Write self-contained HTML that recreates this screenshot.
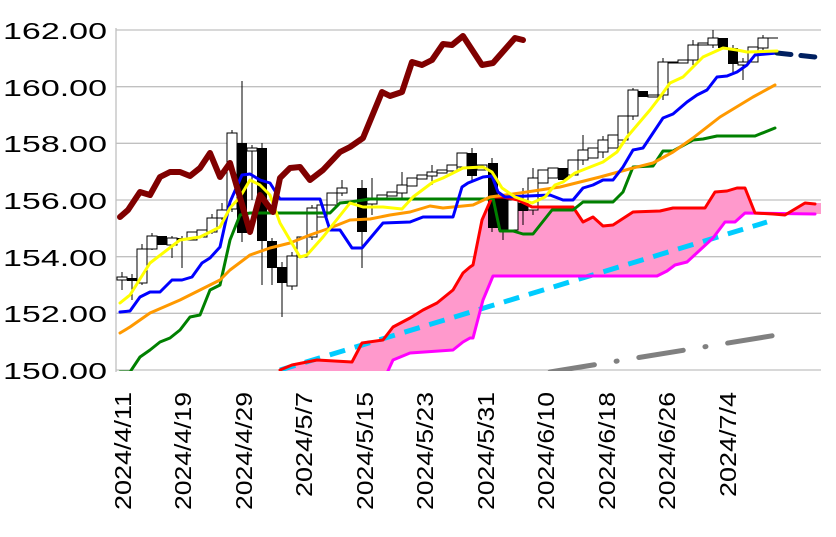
<!DOCTYPE html>
<html><head><meta charset="utf-8"><style>
html,body{margin:0;padding:0;background:#fff;}
svg{display:block;font-family:"Liberation Sans",sans-serif;}
</style></head><body>
<svg width="836" height="537" viewBox="0 0 836 537" xmlns="http://www.w3.org/2000/svg">
<defs><clipPath id="pc"><rect x="116" y="25" width="710" height="346"/></clipPath></defs>
<g stroke="#c0c0c0" stroke-width="1.3">
<line x1="116" y1="30" x2="821" y2="30"/><line x1="116" y1="86.7" x2="821" y2="86.7"/>
<line x1="116" y1="143.3" x2="821" y2="143.3"/><line x1="116" y1="200" x2="821" y2="200"/>
<line x1="116" y1="256.7" x2="821" y2="256.7"/><line x1="116" y1="313.3" x2="821" y2="313.3"/>
<line x1="116" y1="370" x2="821" y2="370"/><line x1="116" y1="28" x2="116" y2="372"/>
</g>
<g font-size="23" fill="#000" lengthAdjust="spacingAndGlyphs">
<text x="3" y="39" textLength="104" lengthAdjust="spacingAndGlyphs">162.00</text>
<text x="3" y="96" textLength="104" lengthAdjust="spacingAndGlyphs">160.00</text>
<text x="3" y="152" textLength="104" lengthAdjust="spacingAndGlyphs">158.00</text>
<text x="3" y="209" textLength="104" lengthAdjust="spacingAndGlyphs">156.00</text>
<text x="3" y="266" textLength="104" lengthAdjust="spacingAndGlyphs">154.00</text>
<text x="3" y="322" textLength="104" lengthAdjust="spacingAndGlyphs">152.00</text>
<text x="3" y="379" textLength="104" lengthAdjust="spacingAndGlyphs">150.00</text>
</g>
<g font-size="23" fill="#000" text-anchor="end">
<text transform="translate(131,392) rotate(-90)" textLength="118" lengthAdjust="spacingAndGlyphs">2024/4/11</text>
<text transform="translate(191,392) rotate(-90)" textLength="118" lengthAdjust="spacingAndGlyphs">2024/4/19</text>
<text transform="translate(252,392) rotate(-90)" textLength="118" lengthAdjust="spacingAndGlyphs">2024/4/29</text>
<text transform="translate(312,392) rotate(-90)" textLength="105" lengthAdjust="spacingAndGlyphs">2024/5/7</text>
<text transform="translate(373,392) rotate(-90)" textLength="118" lengthAdjust="spacingAndGlyphs">2024/5/15</text>
<text transform="translate(433,392) rotate(-90)" textLength="118" lengthAdjust="spacingAndGlyphs">2024/5/23</text>
<text transform="translate(494,392) rotate(-90)" textLength="118" lengthAdjust="spacingAndGlyphs">2024/5/31</text>
<text transform="translate(554,392) rotate(-90)" textLength="118" lengthAdjust="spacingAndGlyphs">2024/6/10</text>
<text transform="translate(615,392) rotate(-90)" textLength="118" lengthAdjust="spacingAndGlyphs">2024/6/18</text>
<text transform="translate(675,392) rotate(-90)" textLength="118" lengthAdjust="spacingAndGlyphs">2024/6/26</text>
<text transform="translate(736,392) rotate(-90)" textLength="105" lengthAdjust="spacingAndGlyphs">2024/7/4</text>
</g>
<g clip-path="url(#pc)">
<polygon fill="#ff99cc" points="280,372 292,365 317,360 352,362 362,343 383,340 393,327 410,318 423,310 437,303 453,290 463,273 470,267 473,265 482,220 492,197 503,197 518,200 532,207 573,207 583,222 593,217 603,226 613,225 633,212 660,211 673,208 705,208 715,192 727,191 737,188 745,188 755,213 773,214 785,215 805,203 821,203 821,214 745,213 735,222 725,222 713,238 700,250 687,262 675,265 667,271 657,276 493,276 483,300 473,338 460,345 453,350 410,353 393,360 387,373"/>
<g stroke="#000" stroke-width="1">
<line x1="122" y1="272" x2="122" y2="290"/><line x1="132" y1="274" x2="132" y2="300"/><line x1="142" y1="244" x2="142" y2="285"/>
<line x1="152" y1="233" x2="152" y2="250"/><line x1="172" y1="236" x2="172" y2="258"/><line x1="182" y1="236" x2="182" y2="268"/>
<line x1="212" y1="214" x2="212" y2="234"/><line x1="222" y1="203" x2="222" y2="220"/><line x1="232" y1="130" x2="232" y2="212"/>
<line x1="242" y1="81" x2="242" y2="242"/><line x1="252" y1="145" x2="252" y2="200"/><line x1="262" y1="143" x2="262" y2="285"/>
<line x1="272" y1="238" x2="272" y2="285"/><line x1="282" y1="262" x2="282" y2="317"/><line x1="292" y1="252" x2="292" y2="290"/>
<line x1="312" y1="205" x2="312" y2="240"/><line x1="342" y1="180" x2="342" y2="196"/><line x1="362" y1="180" x2="362" y2="268"/>
<line x1="372" y1="178" x2="372" y2="215"/><line x1="402" y1="172" x2="402" y2="200"/><line x1="432" y1="165" x2="432" y2="185"/>
<line x1="472" y1="148" x2="472" y2="180"/><line x1="492" y1="158" x2="492" y2="232"/><line x1="503" y1="195" x2="503" y2="240"/>
<line x1="523" y1="188" x2="523" y2="225"/><line x1="533" y1="168" x2="533" y2="215"/><line x1="583" y1="135" x2="583" y2="165"/>
<line x1="603" y1="136" x2="603" y2="158"/><line x1="633" y1="88" x2="633" y2="120"/><line x1="663" y1="58" x2="663" y2="100"/>
<line x1="693" y1="40" x2="693" y2="65"/><line x1="713" y1="30" x2="713" y2="48"/><line x1="733" y1="45" x2="733" y2="75"/>
<line x1="743" y1="58" x2="743" y2="80"/><line x1="763" y1="35" x2="763" y2="50"/>
</g>
<g stroke="#000" stroke-width="1" fill="#fff">
<rect x="117" y="277" width="10" height="3"/><rect x="137" y="249" width="10" height="34"/><rect x="147" y="236" width="10" height="13"/>
<rect x="167" y="238" width="10" height="7"/><rect x="187" y="232" width="10" height="8"/><rect x="197" y="230" width="10" height="7"/>
<rect x="207" y="218" width="10" height="14"/><rect x="217" y="210" width="10" height="8"/><rect x="227" y="133" width="10" height="76"/>
<rect x="247" y="148" width="10" height="3"/><rect x="287" y="256" width="10" height="30"/><rect x="297" y="237" width="10" height="20"/>
<rect x="307" y="208" width="10" height="29"/><rect x="317" y="205" width="10" height="12"/><rect x="327" y="193" width="10" height="12"/>
<rect x="337" y="188" width="10" height="5"/><rect x="367" y="198" width="10" height="6"/><rect x="377" y="195" width="10" height="5"/>
<rect x="387" y="192" width="10" height="4"/><rect x="397" y="185" width="10" height="8"/><rect x="407" y="178" width="10" height="8"/>
<rect x="417" y="175" width="10" height="4"/><rect x="427" y="172" width="10" height="4"/><rect x="437" y="170" width="10" height="3"/>
<rect x="447" y="165" width="10" height="6"/><rect x="457" y="153" width="10" height="14"/><rect x="477" y="165" width="10" height="5"/>
<rect x="508" y="200" width="10" height="30"/><rect x="528" y="178" width="10" height="32"/><rect x="538" y="170" width="10" height="13"/>
<rect x="548" y="168" width="10" height="10"/><rect x="568" y="160" width="10" height="15"/><rect x="578" y="150" width="10" height="10"/>
<rect x="588" y="148" width="10" height="10"/><rect x="598" y="140" width="10" height="12"/><rect x="608" y="135" width="10" height="13"/>
<rect x="618" y="116" width="10" height="24"/><rect x="628" y="90" width="10" height="26"/><rect x="648" y="95" width="10" height="2"/>
<rect x="658" y="62" width="10" height="33"/><rect x="668" y="62" width="10" height="1"/><rect x="678" y="60" width="10" height="3"/>
<rect x="688" y="45" width="10" height="15"/><rect x="698" y="43" width="10" height="2"/><rect x="708" y="38" width="10" height="7"/>
<rect x="738" y="62" width="10" height="3"/><rect x="748" y="47" width="10" height="15"/><rect x="758" y="38" width="10" height="10"/>
<line x1="768" y1="38" x2="778" y2="38"/>
</g>
<g fill="#000">
<rect x="127" y="278" width="10" height="3"/><rect x="157" y="236" width="10" height="9"/><rect x="177" y="238" width="10" height="2"/>
<rect x="237" y="143" width="10" height="90"/><rect x="257" y="148" width="10" height="93"/><rect x="267" y="241" width="10" height="27"/>
<rect x="277" y="267" width="10" height="16"/><rect x="357" y="188" width="10" height="44"/><rect x="467" y="153" width="10" height="23"/>
<rect x="488" y="163" width="10" height="65"/><rect x="498" y="197" width="10" height="33"/><rect x="518" y="203" width="10" height="8"/>
<rect x="558" y="168" width="10" height="12"/><rect x="638" y="91" width="10" height="6"/><rect x="718" y="38" width="10" height="10"/>
<rect x="728" y="48" width="10" height="16"/>
</g>
<g fill="none" stroke-linejoin="round" stroke-linecap="round">
<polyline stroke="#808080" stroke-width="5" stroke-dasharray="45 22 1 22" points="550,372 777,335"/>
<polyline stroke="#00ccff" stroke-width="5" stroke-dasharray="16 10" stroke-linecap="butt" points="280,370 767,222"/>
<polyline stroke="#ff00ff" stroke-width="3" points="387,373 393,360 410,353 453,350 463,342 470,338 473,338 483,300 493,276 657,276 667,271 675,265 687,262 700,250 713,238 725,222 735,222 745,213 815,214"/>
<polyline stroke="#ff0000" stroke-width="3" points="280,370 292,365 317,360 352,362 362,343 383,340 393,327 410,318 423,310 437,303 453,290 463,273 470,267 473,265 482,220 492,197 503,197 518,200 532,207 573,207 583,222 593,217 603,226 613,225 633,212 660,211 673,208 705,208 715,192 727,191 737,188 745,188 755,213 773,214 785,215 805,203 815,204"/>
<polyline stroke="#008000" stroke-width="3" points="120,372 130,372 140,357 150,350 160,342 170,338 180,330 190,317 200,315 210,290 220,285 230,240 240,215 250,213 330,213 340,203 350,202 370,199 488,199 493,198 500,231 513,231 523,234 533,234 552,210 573,210 583,202 613,202 623,192 633,167 653,166 663,151 673,151 693,140 703,139 717,136 755,136 775,128"/>
<polyline stroke="#ff9900" stroke-width="3" points="120,333 130,327 150,313 180,300 200,290 220,280 230,270 250,255 270,248 290,243 310,235 330,228 350,220 370,219 390,215 410,212 430,206 443,208 463,206 473,205 490,197 520,193 560,187 600,177 633,168 653,163 673,152 693,138 720,117 753,97 775,85"/>
<polyline stroke="#0000ff" stroke-width="3" points="120,312 130,311 140,297 150,292 160,292 172,280 182,280 192,277 202,263 210,258 220,247 230,202 242,175 250,174 260,180 270,183 280,199 320,199 330,230 340,230 352,248 362,248 383,223 410,222 423,217 453,217 462,187 468,183 483,177 492,176 498,192 505,197 550,195 563,200 573,200 583,188 593,185 603,180 613,180 623,167 633,150 643,148 653,133 663,118 673,114 687,102 697,95 707,90 717,77 727,76 737,72 747,65 755,55 777,53"/>
<polyline stroke="#002060" stroke-width="5" stroke-dasharray="14 10" points="777,53 815,57"/>
<polyline stroke="#ffff00" stroke-width="3" points="120,303 130,295 150,263 180,240 200,237 220,227 230,208 240,197 250,180 260,185 270,195 280,223 290,240 300,257 307,255 323,237 350,203 363,207 383,207 402,209 413,197 433,182 443,178 463,168 483,167 492,172 502,188 515,197 532,203 545,197 555,185 563,182 575,173 603,162 617,152 627,137 650,110 660,97 670,83 683,77 703,57 723,48 737,50 747,52 777,51"/>
<polyline stroke="#800000" stroke-width="6" points="120,217 128,210 140,192 150,195 160,177 170,172 180,172 190,176 200,168 210,153 220,177 230,163 250,232 260,195 273,212 280,178 290,168 300,167 310,180 323,170 340,152 350,147 363,138 382,92 390,96 402,92 412,62 422,65 432,60 443,44 452,45 463,36 482,65 493,63 515,38 523,40"/>
</g>
</g>
</svg>
</body></html>
